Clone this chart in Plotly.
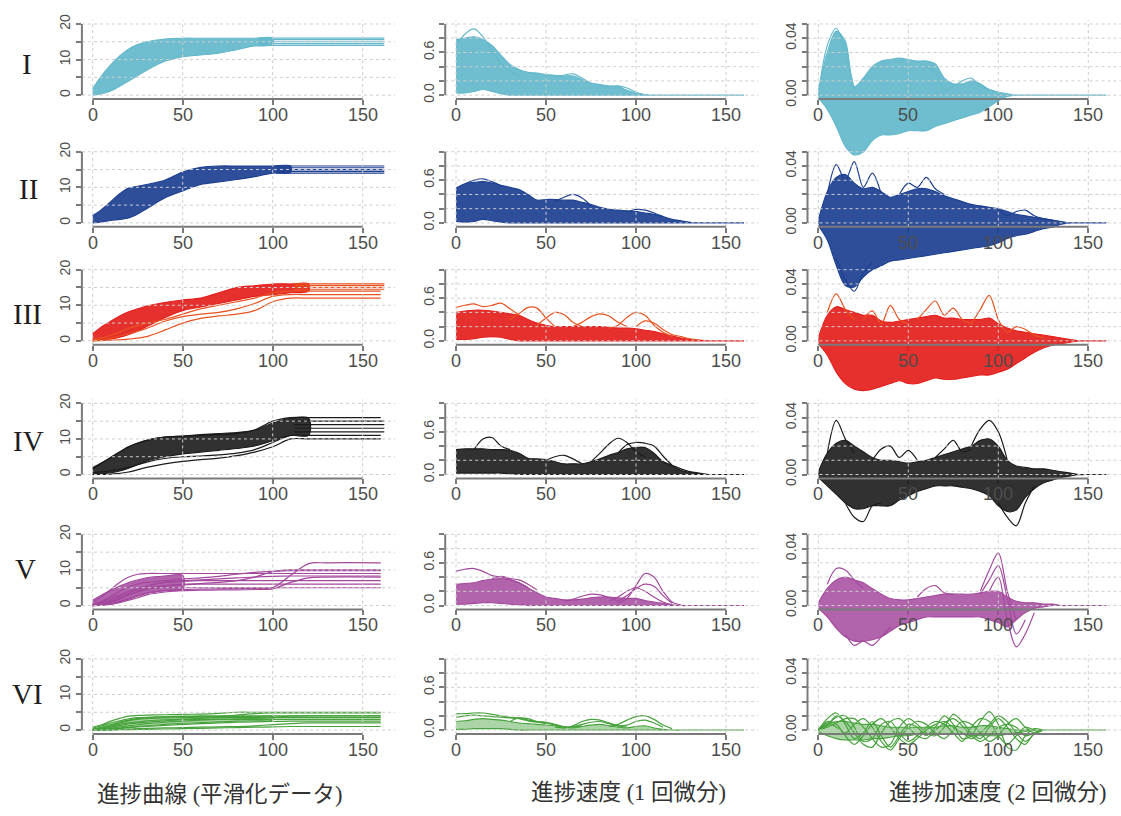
import plotly.graph_objects as go

W, H = 1121, 816

# ---------------- sampling grids (time axis) ----------------
XT = [0, 5, 10, 15, 20, 25, 30, 35, 40, 45, 50, 55, 60, 65, 70, 75, 80,
      85, 90, 95, 100, 105, 110, 115, 120, 125, 130, 135, 140, 145, 150, 155, 160]
X_POS = [0, 5, 10, 15, 20, 25, 30, 40, 50, 60, 70, 80, 90, 100, 110, 120, 130, 160]
X_TICKS = [0, 50, 100, 150]
X_TICKTEXT = ['0', '50', '100', '150']
Y_TICKS = [[0, 5, 10, 15, 20], [0, 0.2, 0.4, 0.6, 0.8, 1.0], [0, 0.01, 0.02, 0.03, 0.04, 0.05]]
Y_TICKTEXT = [['0', '', '10', '', '20'], ['0.0', '', '', '0.6', '', ''], ['0.00', '', '', '', '0.04', '']]
ROW_LABELS = ['I', 'II', 'III', 'IV', 'V', 'VI']
COL_TITLES = ['進捗曲線 (平滑化データ)', '進捗速度 (1 回微分)', '進捗加速度 (2 回微分)']
X_END = 162

# ---------------- Row I (cyan) ----------------
I_POS_BX = [0, 5, 10, 15, 20, 25, 30, 40, 50, 60, 70, 80, 90, 100]
I_POS_HI = [1.8, 5.5, 8.5, 11.0, 13.0, 14.2, 15.0, 15.8, 16.0, 16.0, 16.0, 16.0, 16.0, 16.0]
I_POS_LO = [0.0, 0.4, 1.2, 2.5, 4.0, 5.5, 7.0, 9.5, 10.8, 11.3, 11.8, 12.8, 13.8, 14.2]
I_POS_END = [14.0, 14.5, 15.0, 15.6, 16.0]
I_VEL_HI = [0.78, 0.80, 0.82, 0.78, 0.70, 0.56, 0.43, 0.36, 0.32, 0.31, 0.29, 0.28, 0.27, 0.27, 0.22, 0.17, 0.15,
            0.13, 0.12, 0.07, 0.03, 0.01, 0, 0, 0, 0, 0, 0, 0, 0, 0, 0, 0]
I_VEL_LO = [0.03, 0.03, 0.05, 0.08, 0.05, 0.02, 0, 0, 0, 0, 0, 0, 0, 0, 0, 0, 0,
            0, 0, 0, 0, 0, 0, 0, 0, 0, 0, 0, 0, 0, 0, 0, 0]
I_VEL_L1_X = [0, 5, 10, 15, 20, 25, 30, 35]
I_VEL_L1_Y = [0.70, 0.86, 0.93, 0.82, 0.62, 0.45, 0.33, 0.28]
I_VEL_L2_X = [55, 60, 65, 70, 75]
I_VEL_L2_Y = [0.25, 0.28, 0.30, 0.24, 0.16]
I_VEL_L3_X = [80, 85, 90, 95, 100, 105]
I_VEL_L3_Y = [0.13, 0.12, 0.13, 0.10, 0.04, 0.0]
I_ACC_HI = [0.002, 0.030, 0.045, 0.038, 0.006, 0.012, 0.020, 0.024, 0.025, 0.026, 0.025, 0.024, 0.024, 0.022, 0.012, 0.008, 0.008,
            0.010, 0.008, 0.004, 0.002, 0.001, 0, 0, 0, 0, 0, 0, 0, 0, 0, 0, 0]
I_ACC_LO = [-0.002, -0.010, -0.022, -0.036, -0.042, -0.040, -0.032, -0.028, -0.028, -0.027, -0.025, -0.025, -0.025, -0.022, -0.020, -0.018, -0.016,
            -0.014, -0.012, -0.008, -0.004, -0.001, 0, 0, 0, 0, 0, 0, 0, 0, 0, 0, 0]
I_ACC_L1_X = [0, 5, 10, 15, 20]
I_ACC_L1_Y = [0.0, 0.035, 0.047, 0.030, 0.004]
I_ACC_L2_X = [60, 65, 70, 75, 80, 85, 90, 95, 100]
I_ACC_L2_Y = [0.020, 0.016, 0.004, 0.006, 0.010, 0.012, 0.006, 0.004, 0.002]

# ---------------- Row II (blue) ----------------
II_POS_BX = [0, 5, 10, 15, 20, 25, 30, 40, 50, 60, 70, 80, 90, 100, 110]
II_POS_HI = [2.0, 3.8, 6.0, 8.2, 9.8, 10.3, 10.8, 12.0, 14.3, 15.6, 16.0, 16.0, 16.0, 16.0, 16.0]
II_POS_LO = [0.0, 0.3, 0.7, 1.0, 1.4, 2.5, 4.0, 7.0, 9.0, 10.8, 11.5, 12.2, 13.0, 14.0, 14.2]
II_POS_END = [14.0, 14.5, 15.0, 15.5, 16.0]
II_VEL_HI = [0.49, 0.55, 0.57, 0.58, 0.56, 0.53, 0.50, 0.47, 0.40, 0.32, 0.33, 0.33, 0.32, 0.32, 0.29, 0.26, 0.22,
             0.19, 0.18, 0.17, 0.16, 0.14, 0.12, 0.09, 0.05, 0.03, 0.01, 0, 0, 0, 0, 0, 0]
II_VEL_LO = [0.02, 0.01, 0.02, 0.05, 0.03, 0.01, 0, 0, 0, 0, 0, 0, 0, 0, 0, 0, 0,
             0, 0, 0, 0, 0, 0, 0, 0, 0, 0, 0, 0, 0, 0, 0, 0]
II_VEL_L1_X = [5, 10, 15, 20, 25]
II_VEL_L1_Y = [0.55, 0.60, 0.62, 0.58, 0.52]
II_VEL_L2_X = [55, 60, 65, 70, 75]
II_VEL_L2_Y = [0.30, 0.36, 0.40, 0.35, 0.24]
II_VEL_L3_X = [95, 100, 105, 110, 115]
II_VEL_L3_Y = [0.15, 0.19, 0.18, 0.14, 0.09]
II_ACC_HI = [0.002, 0.022, 0.032, 0.034, 0.028, 0.024, 0.025, 0.022, 0.018, 0.020, 0.022, 0.024, 0.024, 0.022, 0.019, 0.017, 0.015,
             0.013, 0.012, 0.011, 0.010, 0.008, 0.006, 0.005, 0.004, 0.003, 0.002, 0.001, 0, 0, 0, 0, 0]
II_ACC_LO = [-0.002, -0.012, -0.030, -0.044, -0.045, -0.038, -0.033, -0.030, -0.027, -0.026, -0.025, -0.024, -0.023, -0.022, -0.021, -0.020, -0.019,
             -0.018, -0.017, -0.016, -0.014, -0.011, -0.009, -0.008, -0.006, -0.004, -0.003, -0.001, 0, 0, 0, 0, 0]
II_ACC_L1_X = [5, 10, 15, 20, 25, 30, 35]
II_ACC_L1_Y = [0.020, 0.041, 0.030, 0.043, 0.025, 0.035, 0.020]
II_ACC_L2_X = [45, 50, 55, 60, 65, 70]
II_ACC_L2_Y = [0.020, 0.028, 0.025, 0.032, 0.024, 0.020]
II_ACC_L3_X = [100, 105, 110, 115, 120, 125, 130]
II_ACC_L3_Y = [0.010, 0.005, 0.008, 0.009, 0.005, 0.003, 0.002]
II_ACC_L4_X = [10, 15, 20, 25, 30]
II_ACC_L4_Y = [-0.025, -0.040, -0.048, -0.035, -0.028]

# ---------------- Row III (red) ----------------
III_POS_BX = [0, 5, 10, 15, 20, 25, 30, 40, 50, 60, 70, 80, 90, 100, 110, 120]
III_POS_HI = [2.0, 4.0, 5.5, 7.0, 8.2, 9.0, 9.8, 10.8, 11.5, 12.0, 13.5, 15.0, 15.5, 16.0, 16.0, 16.0]
III_POS_LO = [0.0, 0.2, 0.5, 1.0, 1.8, 2.8, 4.0, 6.5, 8.5, 9.5, 10.5, 11.5, 12.5, 13.0, 13.5, 14.0]
III_POS_LX = [0, 10, 20, 30, 40, 50, 60, 70, 80, 90, 100, 110, 120, 160]
III_POS_L1 = [0.0, 0.2, 0.5, 1.2, 3.0, 5.0, 6.3, 7.0, 7.5, 8.5, 11.0, 12.0, 12.0, 12.0]
III_POS_L2 = [0.2, 0.8, 2.0, 3.5, 5.5, 6.8, 7.5, 8.0, 9.0, 10.5, 12.5, 13.0, 13.0, 13.0]
III_POS_L3 = [0.5, 1.5, 3.5, 5.0, 6.0, 7.5, 9.0, 10.0, 11.0, 12.0, 13.5, 14.0, 14.0, 14.0]
III_POS_END = [14.5, 15.0, 15.5, 16.0]
III_VEL_HI = [0.40, 0.42, 0.43, 0.43, 0.42, 0.40, 0.38, 0.36, 0.30, 0.25, 0.22, 0.20, 0.20, 0.20, 0.20, 0.20, 0.20,
              0.19, 0.18, 0.18, 0.17, 0.15, 0.13, 0.10, 0.07, 0.04, 0.02, 0.01, 0, 0, 0, 0, 0]
III_VEL_LO = [0.02, 0.02, 0.03, 0.05, 0.06, 0.05, 0.02, 0, 0, 0, 0, 0, 0, 0, 0, 0, 0,
              0, 0, 0, 0, 0, 0, 0, 0, 0, 0, 0, 0, 0, 0, 0, 0]
III_VEL_L1_X = [0, 5, 10, 15, 20, 25, 30, 35]
III_VEL_L1_Y = [0.47, 0.50, 0.52, 0.48, 0.50, 0.53, 0.45, 0.36]
III_VEL_L2_X = [30, 35, 40, 45, 50, 55]
III_VEL_L2_Y = [0.30, 0.38, 0.47, 0.46, 0.32, 0.20]
III_VEL_L3_X = [45, 50, 55, 60, 65, 70]
III_VEL_L3_Y = [0.22, 0.32, 0.40, 0.37, 0.26, 0.20]
III_VEL_L4_X = [65, 70, 75, 80, 85, 90, 95]
III_VEL_L4_Y = [0.20, 0.26, 0.34, 0.38, 0.35, 0.26, 0.20]
III_VEL_L5_X = [85, 90, 95, 100, 105, 110, 115, 120]
III_VEL_L5_Y = [0.18, 0.22, 0.33, 0.40, 0.36, 0.22, 0.12, 0.06]
III_VEL_L6_X = [100, 105, 110, 115, 120, 125, 130, 135]
III_VEL_L6_Y = [0.20, 0.28, 0.25, 0.16, 0.09, 0.06, 0.03, 0.01]
III_ACC_HI = [0.002, 0.018, 0.024, 0.022, 0.020, 0.018, 0.018, 0.014, 0.013, 0.014, 0.015, 0.016, 0.017, 0.018, 0.016, 0.016, 0.015,
              0.015, 0.015, 0.016, 0.012, 0.009, 0.007, 0.006, 0.005, 0.004, 0.003, 0.002, 0.001, 0, 0, 0, 0]
III_ACC_LO = [-0.002, -0.010, -0.022, -0.030, -0.034, -0.035, -0.034, -0.032, -0.030, -0.028, -0.030, -0.030, -0.028, -0.026, -0.027, -0.027, -0.026,
              -0.025, -0.024, -0.024, -0.022, -0.020, -0.016, -0.012, -0.008, -0.005, -0.003, -0.002, -0.001, 0, 0, 0, 0]
III_ACC_L1_X = [5, 10, 15, 20]
III_ACC_L1_Y = [0.020, 0.033, 0.022, 0.015]
III_ACC_L2_X = [25, 30, 35, 40, 45, 50]
III_ACC_L2_Y = [0.015, 0.021, 0.012, 0.025, 0.015, 0.012]
III_ACC_L3_X = [55, 60, 65, 70, 75, 80, 85]
III_ACC_L3_Y = [0.015, 0.022, 0.028, 0.018, 0.023, 0.015, 0.012]
III_ACC_L4_X = [85, 90, 95, 100, 105, 110, 115, 120, 125]
III_ACC_L4_Y = [0.012, 0.022, 0.032, 0.015, 0.006, 0.010, 0.008, 0.004, 0.002]

# ---------------- Row IV (black) ----------------
IV_POS_BX = [0, 5, 10, 15, 20, 25, 30, 40, 50, 60, 70, 80, 90, 100, 110, 120]
IV_POS_HI = [2.0, 3.3, 4.8, 6.3, 7.8, 8.8, 9.6, 10.5, 10.8, 11.2, 11.5, 11.8, 12.5, 14.5, 15.8, 15.8]
IV_POS_LO = [0.0, 0.2, 0.5, 1.0, 1.8, 2.8, 3.8, 5.0, 5.8, 6.3, 6.8, 7.3, 8.0, 9.5, 11.0, 11.0]
IV_POS_LX = [0, 10, 20, 30, 40, 50, 60, 70, 80, 90, 100, 110, 120, 160]
IV_POS_L1 = [0.0, 0.1, 0.7, 2.0, 3.0, 3.7, 4.2, 4.6, 5.3, 6.3, 7.8, 10.0, 10.0, 10.0]
IV_POS_L2 = [0.5, 1.0, 2.0, 3.5, 4.5, 5.0, 5.2, 5.5, 6.0, 7.0, 9.0, 11.0, 11.0, 11.0]
IV_POS_L3 = [1.5, 4.8, 7.8, 9.6, 10.5, 10.8, 11.0, 11.2, 11.5, 12.5, 15.0, 16.0, 16.0, 16.0]
IV_POS_END = [12.0, 13.0, 14.0, 15.0]
IV_VEL_HI = [0.35, 0.36, 0.36, 0.36, 0.35, 0.35, 0.34, 0.30, 0.23, 0.22, 0.21, 0.18, 0.15, 0.15, 0.15, 0.18, 0.22,
             0.27, 0.31, 0.36, 0.38, 0.38, 0.30, 0.18, 0.12, 0.06, 0.03, 0.01, 0, 0, 0, 0, 0]
IV_VEL_LO = [0.02, 0.02, 0.02, 0.02, 0.02, 0.02, 0.01, 0, 0, 0, 0, 0, 0, 0, 0, 0, 0,
             0, 0, 0, 0, 0, 0, 0, 0, 0, 0, 0, 0, 0, 0, 0, 0]
IV_VEL_L1_X = [10, 15, 20, 25, 30]
IV_VEL_L1_Y = [0.35, 0.50, 0.52, 0.40, 0.35]
IV_VEL_L2_X = [50, 55, 60, 65, 70]
IV_VEL_L2_Y = [0.20, 0.25, 0.27, 0.22, 0.15]
IV_VEL_L3_X = [75, 80, 85, 90, 95, 100, 105]
IV_VEL_L3_Y = [0.18, 0.30, 0.43, 0.51, 0.45, 0.32, 0.25]
IV_VEL_L4_X = [90, 95, 100, 105, 110, 115, 120]
IV_VEL_L4_Y = [0.30, 0.42, 0.45, 0.44, 0.40, 0.26, 0.13]
IV_VEL_L5_X = [115, 120, 125, 130, 135, 140]
IV_VEL_L5_Y = [0.18, 0.13, 0.08, 0.04, 0.02, 0.0]
IV_ACC_HI = [0.002, 0.015, 0.022, 0.024, 0.020, 0.016, 0.012, 0.010, 0.010, 0.009, 0.008, 0.009, 0.010, 0.012, 0.014, 0.016, 0.018,
             0.020, 0.024, 0.025, 0.020, 0.010, 0.006, 0.005, 0.004, 0.004, 0.003, 0.002, 0.001, 0, 0, 0, 0]
IV_ACC_LO = [-0.002, -0.008, -0.014, -0.020, -0.024, -0.024, -0.022, -0.022, -0.022, -0.018, -0.015, -0.012, -0.010, -0.008, -0.008, -0.008, -0.009,
             -0.010, -0.012, -0.015, -0.022, -0.026, -0.025, -0.016, -0.010, -0.006, -0.004, -0.002, -0.001, 0, 0, 0, 0]
IV_ACC_L1_X = [5, 10, 15, 20]
IV_ACC_L1_Y = [0.015, 0.038, 0.025, 0.015]
IV_ACC_L2_X = [30, 35, 40, 45, 50, 55]
IV_ACC_L2_Y = [0.010, 0.018, 0.020, 0.012, 0.017, 0.010]
IV_ACC_L3_X = [65, 70, 75, 80, 85]
IV_ACC_L3_Y = [0.012, 0.018, 0.024, 0.016, 0.018]
IV_ACC_L4_X = [85, 90, 95, 100, 105]
IV_ACC_L4_Y = [0.020, 0.032, 0.038, 0.030, 0.010]
IV_ACC_L5_X = [15, 20, 25, 30, 35]
IV_ACC_L5_Y = [-0.020, -0.030, -0.033, -0.022, -0.020]
IV_ACC_L6_X = [100, 105, 110, 115, 120]
IV_ACC_L6_Y = [-0.020, -0.030, -0.036, -0.020, -0.008]

# ---------------- Row V (purple) ----------------
V_POS_BX = [0, 5, 10, 15, 20, 25, 30, 40, 50]
V_POS_HI = [1.5, 3.0, 4.2, 5.5, 6.5, 7.2, 7.8, 8.3, 8.5]
V_POS_LO = [0.0, 0.1, 0.4, 1.0, 1.8, 2.6, 3.4, 4.2, 4.6]
V_POS_L1 = [1.0, 2.5, 4.5, 6.5, 8.0, 8.8, 9.0, 9.0, 9.0, 9.0, 9.0, 9.0, 9.0, 9.0, 9.0, 9.0, 9.0, 9.0]
V_POS_L2 = [0.5, 1.0, 2.0, 3.0, 4.0, 4.8, 5.5, 6.5, 7.0, 7.2, 7.5, 7.8, 8.0, 8.2, 8.3, 8.3, 8.3, 8.3]
V_POS_L3 = [0.0, 0.3, 1.0, 2.0, 3.0, 3.8, 4.5, 5.5, 6.0, 6.2, 6.5, 7.0, 8.0, 9.5, 10.0, 10.0, 10.0, 10.0]
V_POS_L4 = [0.0, 0.2, 0.5, 1.2, 2.0, 2.8, 3.5, 4.2, 4.5, 4.6, 4.7, 4.8, 4.8, 5.0, 8.5, 11.8, 12.0, 12.0]
V_POS_L5 = [0.0, 0.1, 0.3, 0.8, 1.5, 2.2, 3.0, 3.8, 4.2, 4.3, 4.4, 4.4, 4.5, 4.7, 6.5, 7.8, 8.0, 8.0]
V_POS_L6 = [0.3, 0.8, 1.5, 2.5, 3.5, 4.5, 5.5, 6.5, 6.8, 7.0, 7.0, 7.0, 7.0, 7.0, 7.0, 7.0, 7.0, 7.0]
V_POS_L7 = [0.2, 0.6, 1.2, 2.0, 3.0, 4.0, 4.8, 5.5, 5.8, 6.0, 6.0, 6.0, 6.0, 6.0, 6.0, 6.0, 6.0, 6.0]
V_POS_L8 = [0.0, 0.2, 0.8, 1.8, 3.0, 4.0, 4.8, 5.0, 5.0, 5.0, 5.0, 5.0, 5.0, 5.0, 5.0, 5.0, 5.0, 5.0]
V_POS_L9 = [0.4, 1.2, 2.5, 4.0, 5.2, 6.0, 6.5, 7.0, 7.5, 7.8, 8.2, 8.8, 9.3, 9.6, 9.8, 9.8, 9.8, 9.8]
V_VEL_HI = [0.30, 0.31, 0.32, 0.35, 0.37, 0.38, 0.36, 0.32, 0.25, 0.18, 0.12, 0.10, 0.08, 0.08, 0.09, 0.11, 0.12,
            0.12, 0.11, 0.10, 0.10, 0.07, 0.05, 0.03, 0.01, 0, 0, 0, 0, 0, 0, 0, 0]
V_VEL_LO = [0.02, 0.02, 0.03, 0.04, 0.04, 0.03, 0.02, 0.01, 0, 0, 0, 0, 0, 0, 0, 0, 0,
            0, 0, 0, 0, 0, 0, 0, 0, 0, 0, 0, 0, 0, 0, 0, 0]
V_VEL_L1_X = [0, 5, 10, 15, 20, 25, 30, 35, 40]
V_VEL_L1_Y = [0.48, 0.51, 0.52, 0.48, 0.42, 0.40, 0.37, 0.32, 0.25]
V_VEL_L2_X = [90, 95, 100, 105, 110, 115, 120, 125]
V_VEL_L2_Y = [0.03, 0.10, 0.28, 0.45, 0.40, 0.20, 0.05, 0.01]
V_VEL_L3_X = [90, 95, 100, 105, 110, 115, 120]
V_VEL_L3_Y = [0.06, 0.14, 0.24, 0.30, 0.27, 0.14, 0.03]
V_VEL_L4_X = [85, 90, 95, 100, 105, 110, 115, 120]
V_VEL_L4_Y = [0.06, 0.12, 0.20, 0.25, 0.20, 0.12, 0.05, 0.01]
V_VEL_L5_X = [60, 65, 70, 75, 80, 85, 90]
V_VEL_L5_Y = [0.06, 0.09, 0.13, 0.16, 0.15, 0.11, 0.06]
V_VEL_L6_X = [20, 25, 30, 35, 40, 45]
V_VEL_L6_Y = [0.38, 0.41, 0.38, 0.36, 0.30, 0.22]
V_ACC_HI = [0.002, 0.012, 0.018, 0.020, 0.018, 0.016, 0.012, 0.008, 0.005, 0.004, 0.004, 0.005, 0.006, 0.007, 0.008, 0.008, 0.008,
            0.008, 0.009, 0.010, 0.010, 0.006, 0.003, 0.002, 0.002, 0.001, 0.001, 0, 0, 0, 0, 0, 0]
V_ACC_LO = [-0.002, -0.008, -0.016, -0.022, -0.025, -0.025, -0.024, -0.022, -0.018, -0.014, -0.012, -0.010, -0.008, -0.008, -0.008, -0.008, -0.008,
            -0.008, -0.008, -0.010, -0.012, -0.015, -0.010, -0.005, -0.002, -0.001, 0, 0, 0, 0, 0, 0, 0]
V_ACC_L1_X = [5, 10, 15, 20, 25]
V_ACC_L1_Y = [0.015, 0.026, 0.025, 0.018, 0.012]
V_ACC_L2_X = [90, 95, 100, 105, 110]
V_ACC_L2_Y = [0.010, 0.025, 0.037, 0.010, -0.010]
V_ACC_L3_X = [90, 95, 100, 105, 110, 115]
V_ACC_L3_Y = [0.008, 0.018, 0.028, 0.005, -0.020, -0.010]
V_ACC_L4_X = [95, 100, 105, 110, 115, 120]
V_ACC_L4_Y = [0.010, 0.020, -0.010, -0.029, -0.020, -0.005]
V_ACC_L5_X = [15, 20, 25, 30, 35, 40]
V_ACC_L5_Y = [-0.020, -0.028, -0.025, -0.028, -0.022, -0.015]
V_ACC_L6_X = [55, 60, 65, 70, 75]
V_ACC_L6_Y = [0.006, 0.012, 0.014, 0.009, 0.008]

# ---------------- Row VI (green) ----------------
VI_POS_BX = [0, 5, 10, 15, 20, 25, 30, 40, 50, 60, 70, 80, 90, 100]
VI_POS_HI = [0.6, 1.2, 2.0, 2.6, 3.2, 3.5, 3.6, 3.7, 3.8, 3.8, 3.8, 3.8, 3.8, 3.8]
VI_POS_LO = [0.0, 0.1, 0.3, 0.5, 0.8, 1.0, 1.2, 1.6, 1.9, 2.1, 2.3, 2.5, 2.6, 2.8]
VI_POS_L1 = [0.8, 1.5, 2.5, 3.3, 3.9, 4.1, 4.2, 4.3, 4.4, 4.5, 4.7, 5.0, 5.0, 5.0, 5.0, 5.0, 5.0, 5.0]
VI_POS_L2 = [0.3, 0.8, 1.5, 2.2, 2.8, 3.2, 3.5, 3.8, 3.9, 4.0, 4.0, 4.0, 4.0, 4.0, 4.0, 4.0, 4.0, 4.0]
VI_POS_L3 = [0.0, 0.4, 1.0, 1.6, 2.0, 2.3, 2.6, 2.9, 3.0, 3.0, 3.0, 3.1, 3.3, 3.6, 3.9, 4.0, 4.0, 4.0]
VI_POS_L4 = [0.0, 0.2, 0.5, 0.9, 1.2, 1.5, 1.8, 2.2, 2.5, 2.8, 3.0, 3.0, 3.0, 3.0, 3.0, 3.0, 3.0, 3.0]
VI_POS_L5 = [0.0, 0.1, 0.3, 0.5, 0.7, 0.9, 1.0, 1.3, 1.6, 1.8, 2.0, 2.2, 2.3, 2.4, 2.5, 2.5, 2.5, 2.5]
VI_POS_L6 = [0.0, 0.0, 0.1, 0.2, 0.3, 0.4, 0.5, 0.6, 0.7, 0.8, 0.9, 1.0, 1.2, 1.5, 1.8, 2.0, 2.0, 2.0]
VI_POS_L7 = [0.0, 0.0, 0.0, 0.1, 0.1, 0.2, 0.2, 0.3, 0.4, 0.5, 0.6, 0.7, 0.8, 0.9, 1.0, 1.0, 1.0, 1.0]
VI_POS_L8 = [0.2, 0.6, 1.2, 2.0, 2.6, 3.0, 3.2, 3.4, 3.5, 3.6, 3.8, 4.2, 4.6, 4.8, 4.8, 4.8, 4.8, 4.8]
VI_POS_L9 = [0.0, 0.3, 0.8, 1.3, 1.7, 2.0, 2.2, 2.6, 3.0, 3.3, 3.5, 3.5, 3.5, 3.5, 3.5, 3.5, 3.5, 3.5]
VI_VEL_HI = [0.12, 0.13, 0.15, 0.16, 0.15, 0.14, 0.12, 0.10, 0.09, 0.08, 0.07, 0.06, 0.04, 0.03, 0.05, 0.07, 0.08,
             0.06, 0.04, 0.03, 0.05, 0.06, 0.03, 0.01, 0, 0, 0, 0, 0, 0, 0, 0, 0]
VI_VEL_LO = [0.01, 0.01, 0.02, 0.02, 0.02, 0.02, 0.01, 0, 0, 0, 0, 0, 0, 0, 0, 0, 0,
             0, 0, 0, 0, 0, 0, 0, 0, 0, 0, 0, 0, 0, 0, 0, 0]
VI_VEL_L1_X = [0, 5, 10, 15, 20, 25, 30, 35, 40, 45, 50, 55, 60]
VI_VEL_L1_Y = [0.23, 0.23, 0.24, 0.24, 0.22, 0.20, 0.18, 0.17, 0.14, 0.12, 0.10, 0.07, 0.04]
VI_VEL_L2_X = [55, 60, 65, 70, 75, 80, 85, 90, 95]
VI_VEL_L2_Y = [0.04, 0.03, 0.06, 0.12, 0.15, 0.14, 0.10, 0.06, 0.04]
VI_VEL_L3_X = [85, 90, 95, 100, 105, 110, 115, 120]
VI_VEL_L3_Y = [0.05, 0.08, 0.14, 0.19, 0.20, 0.15, 0.07, 0.02]
VI_VEL_L4_X = [0, 5, 10, 15, 20, 25, 30, 35, 40, 45, 50]
VI_VEL_L4_Y = [0.18, 0.20, 0.21, 0.20, 0.19, 0.18, 0.17, 0.16, 0.13, 0.11, 0.09]
VI_VEL_L5_X = [30, 35, 40, 45, 50, 55, 60, 65, 70]
VI_VEL_L5_Y = [0.12, 0.17, 0.16, 0.12, 0.11, 0.08, 0.05, 0.04, 0.06]
VI_VEL_L6_X = [60, 65, 70, 75, 80, 85, 90, 95, 100, 105, 110, 115]
VI_VEL_L6_Y = [0.03, 0.05, 0.08, 0.11, 0.12, 0.09, 0.06, 0.07, 0.12, 0.14, 0.10, 0.04]
VI_ACC_HI = [0.001, 0.004, 0.006, 0.006, 0.005, 0.004, 0.004, 0.003, 0.002, 0.002, 0.002, 0.002, 0.002, 0.002, 0.003, 0.003, 0.002,
             0.002, 0.003, 0.003, 0.002, 0.001, 0, 0, 0, 0, 0, 0, 0, 0, 0, 0, 0]
VI_ACC_LO = [-0.001, -0.004, -0.006, -0.007, -0.007, -0.007, -0.006, -0.006, -0.005, -0.004, -0.004, -0.003, -0.003, -0.003, -0.003, -0.003, -0.003,
             -0.004, -0.004, -0.004, -0.004, -0.003, -0.002, -0.001, 0, 0, 0, 0, 0, 0, 0, 0, 0]
VI_ACC_LX = [0, 5, 10, 15, 20, 25, 30, 35, 40, 45, 50, 55, 60, 65, 70, 75, 80, 85, 90, 95, 100, 105, 110, 115, 120, 125]
VI_ACC_L1 = [0, 0.008, 0.012, 0.004, -0.006, -0.002, 0.006, -0.004, -0.012, -0.004, 0.004, 0.002, -0.004, 0.002, 0.010, 0.004,
             -0.006, -0.004, 0.006, 0.013, 0.004, -0.012, -0.014, -0.004, 0.001, 0]
VI_ACC_L2 = [0, 0.004, 0.009, 0.010, 0.002, -0.008, -0.006, 0.004, 0.006, -0.002, -0.008, -0.004, 0.002, 0.006, 0.004, -0.002,
             -0.008, 0.002, 0.008, 0.006, -0.004, -0.010, -0.004, 0.002, 0, 0]
VI_ACC_L3 = [0, 0.002, 0.005, 0.008, 0.008, 0.002, -0.006, -0.012, -0.010, 0.002, 0.008, 0.004, -0.002, -0.004, 0.002, 0.011,
             0.006, -0.002, -0.006, 0.002, 0.008, 0.002, -0.006, -0.010, -0.002, 0]
VI_ACC_L4 = [0, 0.006, 0.004, -0.004, -0.010, -0.004, 0.004, 0.008, 0.002, -0.006, -0.010, -0.006, 0.000, 0.004, 0.006, 0.002,
             -0.002, -0.006, -0.002, 0.004, 0.010, 0.006, -0.002, -0.008, -0.003, 0]
VI_ACC_L5 = [0, 0.003, 0.010, 0.006, -0.002, -0.010, -0.012, -0.002, 0.006, 0.008, 0.002, -0.004, -0.006, 0.000, 0.005, 0.008,
             0.003, -0.004, -0.008, -0.004, 0.002, 0.004, 0.002, -0.004, -0.002, 0]
VI_ACC_L6 = [0, 0.005, 0.002, -0.002, 0.004, 0.008, 0.002, -0.008, -0.014, -0.006, 0.002, 0.006, 0.004, -0.002, -0.006, 0.000,
             0.006, 0.004, -0.002, -0.008, -0.004, 0.004, 0.008, 0.002, -0.002, 0]

# ---------------- styling ----------------
ROW_COLORS = ['#63B8CB', '#1C3F91', '#E31E1C', '#1B1B1B', '#A3489D', '#46A23B']
LINE_COLORS = ['#63B8CB', '#1C3F91', '#E8521F', '#1B1B1B', '#A3489D', '#46A23B']
FILL_ALPHA = [0.92, 0.92, 0.92, 0.9, 0.85, 0.45]
AX_COL = '#7a7a7a'
TXT_COL = '#4d4d4d'
GRID_COL = '#cdcdcd'
SANS = 'Liberation Sans, Arial, sans-serif'
SERIF = 'Liberation Serif, Noto Sans CJK JP, serif'

# geometry in pixels (layout, not data)
COL_X0 = [92.7, 456.0, 818.3]
ROW_Y0 = [90.7, 220.7, 340.7, 476.7, 610.0, 736.7]
PX_PER_X = 1.8
SPAN_PX = 72.4
PAD_PX = 4.0
X_MIN, X_MAX = -6.0, 168.0
Y_TOP = [20, 1.0, 0.05]
ACC_EXT_UP, ACC_EXT_DOWN = 30, 95
XLABEL_SHIFT = -4
ROW_LABEL_XY = [(27, 59), (28, 186), (27, 313), (28, 443), (25, 573), (27, 700)]
COL_TITLE_XY = [(220, 802), (628, 800), (998, 800)]

PANELS = {
    (0, 0): dict(bands=[(I_POS_BX, I_POS_HI, I_POS_LO)], lines=[], ends=(92, I_POS_END)),
    (0, 1): dict(bands=[(XT, I_VEL_HI, I_VEL_LO)],
                 lines=[(I_VEL_L1_X, I_VEL_L1_Y), (I_VEL_L2_X, I_VEL_L2_Y), (I_VEL_L3_X, I_VEL_L3_Y)], ends=None),
    (0, 2): dict(bands=[(XT, I_ACC_HI, I_ACC_LO)],
                 lines=[(I_ACC_L1_X, I_ACC_L1_Y), (I_ACC_L2_X, I_ACC_L2_Y)], ends=None),
    (1, 0): dict(bands=[(II_POS_BX, II_POS_HI, II_POS_LO)], lines=[], ends=(102, II_POS_END)),
    (1, 1): dict(bands=[(XT, II_VEL_HI, II_VEL_LO)],
                 lines=[(II_VEL_L1_X, II_VEL_L1_Y), (II_VEL_L2_X, II_VEL_L2_Y), (II_VEL_L3_X, II_VEL_L3_Y)], ends=None),
    (1, 2): dict(bands=[(XT, II_ACC_HI, II_ACC_LO)],
                 lines=[(II_ACC_L1_X, II_ACC_L1_Y), (II_ACC_L2_X, II_ACC_L2_Y), (II_ACC_L3_X, II_ACC_L3_Y),
                        (II_ACC_L4_X, II_ACC_L4_Y)], ends=None),
    (2, 0): dict(bands=[(III_POS_BX, III_POS_HI, III_POS_LO)],
                 lines=[(III_POS_LX, III_POS_L1), (III_POS_LX, III_POS_L2), (III_POS_LX, III_POS_L3)],
                 ends=(112, III_POS_END)),
    (2, 1): dict(bands=[(XT, III_VEL_HI, III_VEL_LO)],
                 lines=[(III_VEL_L1_X, III_VEL_L1_Y), (III_VEL_L2_X, III_VEL_L2_Y), (III_VEL_L3_X, III_VEL_L3_Y),
                        (III_VEL_L4_X, III_VEL_L4_Y), (III_VEL_L5_X, III_VEL_L5_Y), (III_VEL_L6_X, III_VEL_L6_Y)],
                 ends=None),
    (2, 2): dict(bands=[(XT, III_ACC_HI, III_ACC_LO)],
                 lines=[(III_ACC_L1_X, III_ACC_L1_Y), (III_ACC_L2_X, III_ACC_L2_Y), (III_ACC_L3_X, III_ACC_L3_Y),
                        (III_ACC_L4_X, III_ACC_L4_Y)], ends=None),
    (3, 0): dict(bands=[(IV_POS_BX, IV_POS_HI, IV_POS_LO)],
                 lines=[(IV_POS_LX, IV_POS_L1), (IV_POS_LX, IV_POS_L2), (IV_POS_LX, IV_POS_L3)],
                 ends=(112, IV_POS_END)),
    (3, 1): dict(bands=[(XT, IV_VEL_HI, IV_VEL_LO)],
                 lines=[(IV_VEL_L1_X, IV_VEL_L1_Y), (IV_VEL_L2_X, IV_VEL_L2_Y), (IV_VEL_L3_X, IV_VEL_L3_Y),
                        (IV_VEL_L4_X, IV_VEL_L4_Y), (IV_VEL_L5_X, IV_VEL_L5_Y)], ends=None),
    (3, 2): dict(bands=[(XT, IV_ACC_HI, IV_ACC_LO)],
                 lines=[(IV_ACC_L1_X, IV_ACC_L1_Y), (IV_ACC_L2_X, IV_ACC_L2_Y), (IV_ACC_L3_X, IV_ACC_L3_Y),
                        (IV_ACC_L4_X, IV_ACC_L4_Y), (IV_ACC_L5_X, IV_ACC_L5_Y), (IV_ACC_L6_X, IV_ACC_L6_Y)],
                 ends=None),
    (4, 0): dict(bands=[(V_POS_BX, V_POS_HI, V_POS_LO)],
                 lines=[(X_POS, V_POS_L1), (X_POS, V_POS_L2), (X_POS, V_POS_L3), (X_POS, V_POS_L4),
                        (X_POS, V_POS_L5), (X_POS, V_POS_L6), (X_POS, V_POS_L7), (X_POS, V_POS_L8),
                        (X_POS, V_POS_L9)], ends=None),
    (4, 1): dict(bands=[(XT, V_VEL_HI, V_VEL_LO)],
                 lines=[(V_VEL_L1_X, V_VEL_L1_Y), (V_VEL_L2_X, V_VEL_L2_Y), (V_VEL_L3_X, V_VEL_L3_Y),
                        (V_VEL_L4_X, V_VEL_L4_Y), (V_VEL_L5_X, V_VEL_L5_Y), (V_VEL_L6_X, V_VEL_L6_Y)], ends=None),
    (4, 2): dict(bands=[(XT, V_ACC_HI, V_ACC_LO)],
                 lines=[(V_ACC_L1_X, V_ACC_L1_Y), (V_ACC_L2_X, V_ACC_L2_Y), (V_ACC_L3_X, V_ACC_L3_Y),
                        (V_ACC_L4_X, V_ACC_L4_Y), (V_ACC_L5_X, V_ACC_L5_Y), (V_ACC_L6_X, V_ACC_L6_Y)], ends=None),
    (5, 0): dict(bands=[(VI_POS_BX, VI_POS_HI, VI_POS_LO)],
                 lines=[(X_POS, VI_POS_L1), (X_POS, VI_POS_L2), (X_POS, VI_POS_L3), (X_POS, VI_POS_L4),
                        (X_POS, VI_POS_L5), (X_POS, VI_POS_L6), (X_POS, VI_POS_L7), (X_POS, VI_POS_L8),
                        (X_POS, VI_POS_L9)], ends=None),
    (5, 1): dict(bands=[(XT, VI_VEL_HI, VI_VEL_LO)],
                 lines=[(VI_VEL_L1_X, VI_VEL_L1_Y), (VI_VEL_L2_X, VI_VEL_L2_Y), (VI_VEL_L3_X, VI_VEL_L3_Y),
                        (VI_VEL_L4_X, VI_VEL_L4_Y), (VI_VEL_L5_X, VI_VEL_L5_Y), (VI_VEL_L6_X, VI_VEL_L6_Y)], ends=None),
    (5, 2): dict(bands=[(XT, VI_ACC_HI, VI_ACC_LO)],
                 lines=[(VI_ACC_LX, VI_ACC_L1), (VI_ACC_LX, VI_ACC_L2), (VI_ACC_LX, VI_ACC_L3),
                        (VI_ACC_LX, VI_ACC_L4), (VI_ACC_LX, VI_ACC_L5), (VI_ACC_LX, VI_ACC_L6)], ends=None),
}


def rgba(hx, a):
    h = hx.lstrip('#')
    return 'rgba(%d,%d,%d,%.3f)' % (int(h[0:2], 16), int(h[2:4], 16), int(h[4:6], 16), a)


def sfx(k):
    return '' if k == 1 else str(k)


fig = go.Figure()
layout_axes = {}
shapes = []
annotations = []


def x_domain(c):
    left_px = COL_X0[c] + X_MIN * PX_PER_X
    right_px = min(COL_X0[c] + X_MAX * PX_PER_X, W)
    rng = [(left_px - COL_X0[c]) / PX_PER_X, (right_px - COL_X0[c]) / PX_PER_X]
    return [left_px / W, right_px / W], rng


def y_domain(r, c, up, down):
    top_val = Y_TOP[c]
    bot_px = min(ROW_Y0[r] + PAD_PX + down, H)
    top_px = max(ROW_Y0[r] - SPAN_PX - PAD_PX - up, 0)
    rng = [(ROW_Y0[r] - bot_px) / SPAN_PX * top_val, (ROW_Y0[r] - top_px) / SPAN_PX * top_val]
    return [1 - bot_px / H, 1 - top_px / H], rng


for r in range(6):
    for c in range(3):
        k = r * 3 + c + 1
        s = sfx(k)
        xd, xr = x_domain(c)
        yd, yr = y_domain(r, c, 0, 0)
        layout_axes['xaxis' + s] = dict(
            domain=xd, range=xr, anchor='y' + s, tickmode='array', tickvals=X_TICKS,
            ticks='outside', ticklen=5, tickwidth=1.8, tickcolor=AX_COL, showgrid=False, zeroline=False,
            showline=False, showticklabels=False, fixedrange=True)
        layout_axes['yaxis' + s] = dict(
            domain=yd, range=yr, anchor='x' + s, tickmode='array', tickvals=Y_TICKS[c], ticktext=Y_TICKTEXT[c],
            tickangle=-90, ticks='outside', ticklen=5, tickwidth=1.8, tickcolor=AX_COL, showgrid=False,
            zeroline=False, showline=False,
            tickfont=dict(size=14, color=TXT_COL, family=SANS), fixedrange=True)
        xr_ref = 'x' + s
        yr_ref = 'y' + s
        # x tick labels, placed just under the R-style axis
        for tv, tt in zip(X_TICKS, X_TICKTEXT):
            annotations.append(dict(text=tt, x=tv, y=0, xref=xr_ref, yref=yr_ref + ' domain', showarrow=False,
                                    xanchor='center', yanchor='top', yshift=XLABEL_SHIFT,
                                    font=dict(size=18, color=TXT_COL, family=SANS)))
        # dotted grid drawn above the curves (as in the original)
        for t in Y_TICKS[c]:
            shapes.append(dict(type='line', xref=xr_ref + ' domain', yref=yr_ref, x0=0, x1=1, y0=t, y1=t,
                               layer='above', line=dict(color=GRID_COL, width=1, dash='dot')))
        for t in X_TICKS:
            shapes.append(dict(type='line', xref=xr_ref, yref=yr_ref + ' domain', x0=t, x1=t, y0=0, y1=1,
                               layer='above', line=dict(color=GRID_COL, width=1, dash='dot')))
        # R-style axis lines spanning the tick range only
        shapes.append(dict(type='line', xref=xr_ref + ' domain', yref=yr_ref, x0=0, x1=0,
                           y0=Y_TICKS[c][0], y1=Y_TICKS[c][-1], layer='above',
                           line=dict(color=AX_COL, width=2)))
        shapes.append(dict(type='line', xref=xr_ref, yref=yr_ref + ' domain', x0=X_TICKS[0], x1=X_TICKS[-1],
                           y0=0, y1=0, layer='above', line=dict(color=AX_COL, width=2)))

# overflow data axes for the acceleration column (curves spill past the panel as in the original)
for r in range(6):
    k = 18 + r + 1
    s = str(k)
    xd, xr = x_domain(2)
    yd, yr = y_domain(r, 2, ACC_EXT_UP, ACC_EXT_DOWN)
    layout_axes['xaxis' + s] = dict(domain=xd, range=xr, anchor='y' + s, visible=False, fixedrange=True)
    layout_axes['yaxis' + s] = dict(domain=yd, range=yr, anchor='x' + s, visible=False, fixedrange=True)

for (r, c), p in PANELS.items():
    if c == 2:
        k = 18 + r + 1
    else:
        k = r * 3 + c + 1
    xa, ya = 'x' + sfx(k), 'y' + sfx(k)
    col = ROW_COLORS[r]
    lcol = LINE_COLORS[r]
    for bx, hi, lo in p['bands']:
        assert len(bx) == len(hi) == len(lo), (r, c)
        fig.add_trace(go.Scatter(
            x=list(bx) + list(bx)[::-1], y=list(hi) + list(lo)[::-1], mode='lines', fill='toself',
            fillcolor=rgba(col, FILL_ALPHA[r]), line=dict(color=col, width=1.1, shape='spline', smoothing=0.9),
            hoverinfo='skip', showlegend=False, xaxis=xa, yaxis=ya))
    for lx, ly in p['lines']:
        assert len(lx) == len(ly), (r, c)
        fig.add_trace(go.Scatter(
            x=lx, y=ly, mode='lines', line=dict(color=lcol, width=1.2, shape='spline', smoothing=0.9),
            hoverinfo='skip', showlegend=False, xaxis=xa, yaxis=ya))
    if p['ends']:
        x0, vals = p['ends']
        for v in vals:
            fig.add_trace(go.Scatter(
                x=[x0, X_END], y=[v, v], mode='lines', line=dict(color=lcol, width=1.2),
                hoverinfo='skip', showlegend=False, xaxis=xa, yaxis=ya))

for lab, (px, py) in zip(ROW_LABELS, ROW_LABEL_XY):
    annotations.append(dict(text=lab, x=px / W, y=1 - py / H, xref='paper', yref='paper', showarrow=False,
                            xanchor='center', yanchor='middle',
                            font=dict(family='Liberation Serif, serif', size=29, color='#1e1e1e')))
for t, (px, py) in zip(COL_TITLES, COL_TITLE_XY):
    annotations.append(dict(text=t, x=px / W, y=1 - py / H, xref='paper', yref='paper', showarrow=False,
                            xanchor='center', yanchor='middle',
                            font=dict(family=SERIF, size=22.5, color='#333333')))

fig.update_layout(width=W, height=H, margin=dict(l=0, r=0, t=0, b=0), paper_bgcolor='white',
                  plot_bgcolor='rgba(0,0,0,0)', showlegend=False, shapes=shapes, annotations=annotations,
                  **layout_axes)
fig.write_html('out.html')
